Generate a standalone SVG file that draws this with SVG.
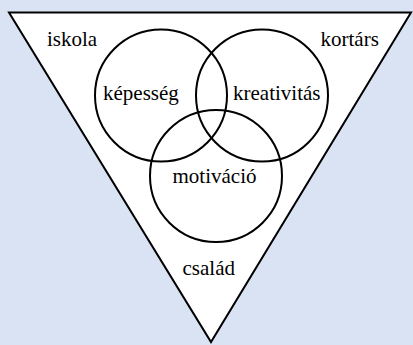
<svg xmlns="http://www.w3.org/2000/svg" width="413" height="345" viewBox="0 0 413 345">
<rect width="413" height="345" fill="#DAE3F3"/>
<g id="triangle">
<polygon points="9,12.5 411,12.5 211,342" fill="#fff" stroke="#000" stroke-width="2"/>
</g>
<g id="kepesseg"><circle cx="161" cy="95.5" r="66" fill="none" stroke="#000" stroke-width="2"/><text x="103" y="100" font-size="21" font-family="Liberation Serif">képesség</text></g>
<g id="kreativitas"><circle cx="262" cy="95.5" r="66" fill="none" stroke="#000" stroke-width="2"/><text x="233" y="100" font-size="21" font-family="Liberation Serif">kreativitás</text></g>
<g id="motivacio"><circle cx="216" cy="176" r="66" fill="none" stroke="#000" stroke-width="2"/><text x="172.5" y="183" font-size="21" font-family="Liberation Serif">motiváció</text></g>
<g id="iskola"><text x="47" y="46" font-size="21" font-family="Liberation Serif">iskola</text></g>
<g id="kortars"><text x="320.5" y="46" font-size="21" font-family="Liberation Serif">kortárs</text></g>
<g id="csalad"><text x="182.5" y="275" font-size="21" font-family="Liberation Serif">család</text></g>
<g id="connectors"/>
</svg>
